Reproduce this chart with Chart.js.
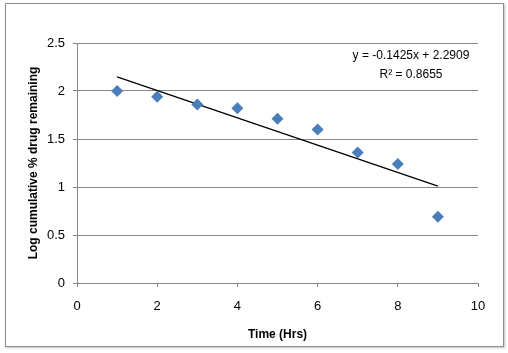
<!DOCTYPE html>
<html>
<head>
<meta charset="utf-8">
<script src="https://cdn.jsdelivr.net/npm/chart.js@4.4.1/dist/chart.umd.min.js"></script>
<style>
  html, body { margin: 0; padding: 0; background: #fff; }
  #frame {
    position: absolute; left: 5px; top: 3px;
    width: 497px; height: 342px;
    border: 1px solid #8c8c8c;
    box-shadow: 1px 1px 2px rgba(0,0,0,0.25);
  }
  canvas { display: block; }
</style>
</head>
<body>
<div id="frame"><canvas id="releaseChart" width="497" height="342"></canvas></div>
<script>
// time in hours and log cumulative % drug remaining
const timeHrs = [1, 2, 3, 4, 5, 6, 7, 8, 9];
const logRemaining = [2.0, 1.94, 1.86, 1.82, 1.71, 1.60, 1.36, 1.24, 0.69];

// linear trendline end points (y = -0.1425x + 2.2909)
const trendX = [1, 9];
const trendY = [2.148, 1.008];

const eqLines = ["y = -0.1425x + 2.2909", "R\u00b2 = 0.8655"];

const gridGray = "#868686";
const fontFam = "'Liberation Sans', Arial, sans-serif";

const equationLabel = {
    id: "equationLabel",
    afterDraw(chart) {
        const ctx = chart.ctx;
        const area = chart.chartArea;
        ctx.save();
        ctx.fillStyle = "#000";
        ctx.font = "12px " + fontFam;
        ctx.textAlign = "center";
        ctx.textBaseline = "middle";
        const cx = area.right - 67;
        ctx.fillText(eqLines[0], cx, area.top + 13);
        ctx.fillText(eqLines[1], cx, area.top + 32);
        ctx.restore();
    },
};

new Chart(document.getElementById("releaseChart").getContext("2d"), {
    type: "scatter",
    data: {
        datasets: [
            {
                label: "Log cumulative % drug remaining",
                data: timeHrs.map((t, i) => ({ x: t, y: logRemaining[i] })),
                pointStyle: "rectRot",
                pointRadius: 6,
                pointHoverRadius: 6,
                backgroundColor: "#4a7ebb",
                borderColor: "#4a7ebb",
                borderWidth: 0,
                order: 1,
            },
            {
                label: "Linear trend",
                type: "line",
                data: trendX.map((t, i) => ({ x: t, y: trendY[i] })),
                borderColor: "#000",
                borderWidth: 1.3,
                pointRadius: 0,
                fill: false,
                order: 2,
            },
        ],
    },
    options: {
        responsive: false,
        animation: false,
        layout: {
            padding: { top: 39, right: 25, left: 16, bottom: 0 },
        },
        plugins: {
            legend: { display: false },
            tooltip: { enabled: false },
        },
        scales: {
            x: {
                type: "linear",
                min: 0,
                max: 10,
                ticks: {
                    stepSize: 2,
                    color: "#000",
                    padding: 12,
                    font: { size: 13, family: fontFam },
                },
                grid: {
                    drawOnChartArea: false,
                    color: gridGray,
                    tickLength: 4,
                },
                border: { color: gridGray, width: 1 },
                title: {
                    display: true,
                    text: "Time (Hrs)",
                    color: "#000",
                    padding: { top: 6 },
                    font: { size: 12, weight: "bold", family: fontFam },
                },
                afterFit(scale) { scale.height = 63; },
            },
            y: {
                min: 0,
                max: 2.5,
                ticks: {
                    stepSize: 0.5,
                    color: "#000",
                    padding: 8,
                    font: { size: 13, family: fontFam },
                    callback: (v) => String(v),
                },
                grid: {
                    color: gridGray,
                    tickLength: 4,
                },
                border: { color: gridGray, width: 1 },
                title: {
                    display: true,
                    text: "Log cumulative % drug remaining",
                    color: "#000",
                    padding: { bottom: 0 },
                    font: { size: 12, weight: "bold", family: fontFam },
                },
                afterFit(scale) { scale.width = 55; },
            },
        },
    },
    plugins: [equationLabel],
});
</script>
</body>
</html>
